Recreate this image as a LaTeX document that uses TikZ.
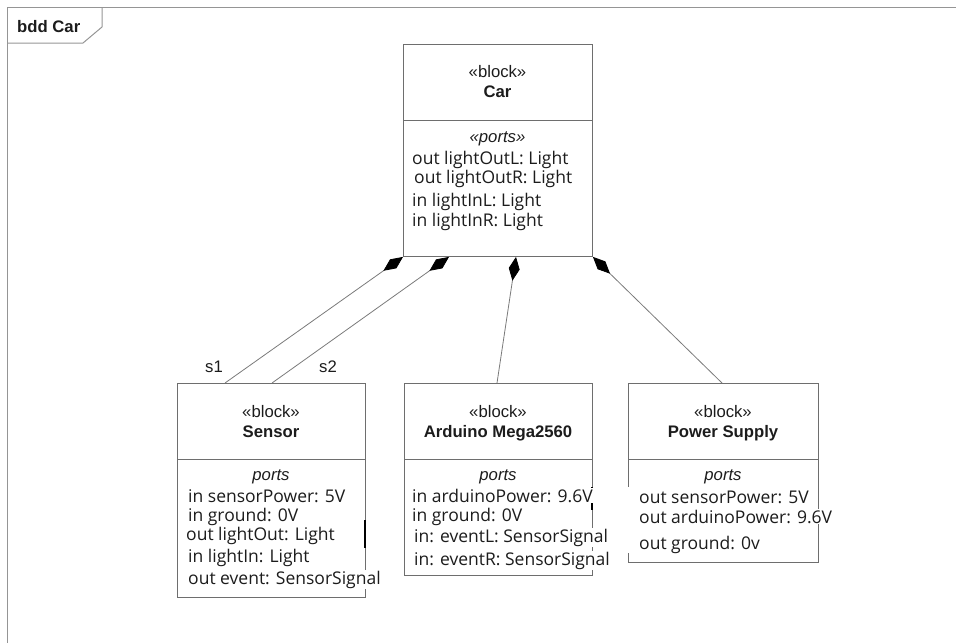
\documentclass[tikz,border=0pt]{standalone}
\usepackage{fontspec}
\setmainfont{Liberation Sans}
\newfontfamily\portfont{Open Sans}
\usetikzlibrary{arrows.meta}

\definecolor{boxline}{HTML}{6E6E6E}
\definecolor{connline}{HTML}{7A7A7A}
\definecolor{frameline}{HTML}{959595}
\definecolor{ink}{HTML}{1C1C1C}

\begin{document}
\begin{tikzpicture}[x=1pt,y=-1pt,
  block/.style={draw=boxline, line width=0.9pt, anchor=north west, inner sep=0pt},
  divider/.style={draw=boxline, line width=0.9pt},
  stereo/.style={font=\fontsize{16.7}{20}\selectfont, text=ink, anchor=base, inner sep=0pt},
  title/.style={font=\fontsize{16.7}{20}\selectfont\bfseries, text=ink, anchor=base, inner sep=0pt},
  comphead/.style={font=\fontsize{16.7}{20}\selectfont\itshape, text=ink, anchor=base, inner sep=0pt},
  port/.style={font=\portfont\fontsize{17.5}{20}\selectfont, text=ink, anchor=base west,
               fill=white, inner xsep=1pt, inner ysep=1pt},
  role/.style={font=\fontsize{16.7}{20}\selectfont, text=ink, anchor=base, inner sep=0pt},
  part/.style={draw=connline, line width=0.8pt,
               -{Diamond[length=24pt,width=11pt,color=black,fill=black]}},
  cursor/.style={draw=black, line width=1.6pt},
]
\useasboundingbox (0,0) rectangle (956,643);

% diagram frame and its name tab
\draw[frameline, line width=1pt] (956,7) -- (7,7) -- (7,643);
\draw[frameline, line width=1pt] (7,43) -- (83,43) -- (102,27) -- (102,7);
\node[title, anchor=base west] (fname) at (17,32) {bdd Car};

% block outlines
\node[block, minimum width=189pt, minimum height=212pt] (car)    at (403,44)  {};
\node[block, minimum width=188pt, minimum height=214pt] (sensor) at (177,383) {};
\node[block, minimum width=188pt, minimum height=192pt] (ard)    at (404,383) {};
\node[block, minimum width=190pt, minimum height=179pt] (power)  at (628,383) {};

% compartment dividers
\foreach \b in {car,sensor,ard,power}
  \draw[divider] ([yshift=-76pt]\b.north west) -- ([yshift=-76pt]\b.north east);

% part associations (composite ends at Car)
\draw[part] ([xshift=48pt]sensor.north west) -- (car.south west);
\draw[part] ([xshift=95pt]sensor.north west) -- ([xshift=46pt]car.south west);
\draw[part] ([xshift=93pt]ard.north west)    -- ([xshift=113pt]car.south west);
\draw[part] ([xshift=94pt]power.north west)  -- (car.south east);

\node[role] (s1) at (214,372) {s1};
\node[role] (s2) at (328,372) {s2};

% Car
\node[stereo]   (carst) at (497.5,77)  {«block»};
\node[title]    (carnm) at (497.5,97)  {Car};
\node[comphead] (carpt) at (497.5,142) {«ports»};
\node[port] (c1) at (411,164) {out lightOutL: Light};
\node[port] (c2) at (413,183) {out lightOutR: Light};
\node[port] (c3) at (411,206) {in lightInL: Light};
\node[port] (c4) at (411,226) {in lightInR: Light};

% Sensor
\node[stereo]   (sst) at (271,417) {«block»};
\node[title]    (snm) at (271,437) {Sensor};
\node[comphead] (spt) at (271,480) {ports};
\draw[cursor] (365,520) -- (365,548);
\node[port] (s1p) at (187,502) {in sensorPower: 5V};
\node[port] (s2p) at (187,521) {in ground: 0V};
\node[port] (s3p) at (185,540) {out lightOut: Light};
\node[port] (s4p) at (187,562) {in lightIn: Light};
\node[port] (s5p) at (187,584) {out event: SensorSignal};

% Arduino Mega2560
\node[stereo]   (ast) at (498,417) {«block»};
\node[title]    (anm) at (498,437) {Arduino Mega2560};
\node[comphead] (apt) at (498,480) {ports};
\draw[cursor] (592,487) -- (592,510);
\node[port] (a1p) at (411,502) {in arduinoPower: 9.6V};
\node[port] (a2p) at (411,521) {in ground: 0V};
\node[port] (a3p) at (413,542) {in: eventL: SensorSignal};
\node[port] (a4p) at (413,565) {in: eventR: SensorSignal};

% Power Supply
\node[stereo]   (pst) at (723,417) {«block»};
\node[title]    (pnm) at (723,437) {Power Supply};
\node[comphead] (ppt) at (723,480) {ports};
\fill[white] (626,487) rectangle (631,553);
\node[port] (p1p) at (638,503) {out sensorPower: 5V};
\node[port] (p2p) at (638,523) {out arduinoPower: 9.6V};
\node[port] (p3p) at (638,549) {out ground: 0v};
\end{tikzpicture}
\end{document}
